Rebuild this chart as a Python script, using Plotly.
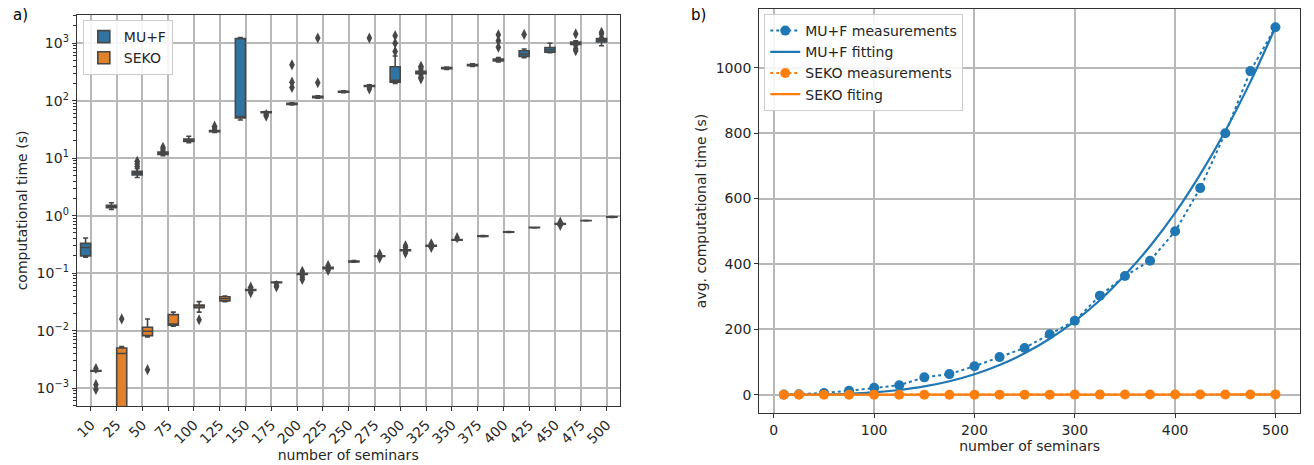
import plotly.graph_objects as go

# ---------------- data ----------------
categories = [10, 25, 50, 75, 100, 125, 150, 175, 200, 225, 250,
              275, 300, 325, 350, 375, 400, 425, 450, 475, 500]
cat_labels = [str(c) for c in categories]

# MU+F box statistics (s)
muf_lower = [0.19, 1.28, 4.6, 11.0, 18.5, 28.0, 46, 60, 84, 110, 137,
             172, 200, 280, 350, 395, 470, 560, 680, 900, 900]
muf_q1 = [0.20, 1.38, 5.1, 11.6, 19.5, 28.8, 50, 61.5, 86, 113, 140,
          176, 210, 295, 360, 405, 490, 590, 700, 950, 1050]
muf_median = [0.28, 1.45, 5.5, 12.2, 20.5, 29.5, 53, 63, 88, 116, 143,
              180, 225, 310, 368, 415, 510, 650, 770, 1000, 1130]
muf_q3 = [0.33, 1.52, 5.9, 12.8, 21.5, 30.3, 1200, 64, 90, 119, 146,
          184, 390, 325, 375, 425, 530, 740, 840, 1050, 1200]
muf_upper = [0.41, 1.68, 6.6, 13.6, 24.0, 31.5, 1250, 65, 92, 122, 149,
             188, 600, 340, 385, 440, 560, 790, 1000, 1100, 1260]
muf_outlier_cat = [50, 50, 50, 75, 75, 125, 125, 175, 175, 200, 200, 200,
                   225, 225, 275, 275, 300, 300, 300, 325, 325, 325, 325,
                   400, 400, 400, 425, 475, 475, 475, 500, 500]
muf_outlier_val = [7.2, 8.0, 8.8, 14.5, 15.5, 33.5, 36.0, 57, 54, 170, 210, 420,
                   205, 1230, 1230, 160, 720, 1000, 1350, 370, 395, 255, 240,
                   850, 1100, 1400, 1420, 1450, 800, 740, 1450, 1550]

# SEKO box statistics (s)
seko_lower = [0.00195, 0.0001, 0.0078, 0.012, 0.021, 0.032, 0.049, 0.066, 0.092,
              0.118, 0.155, 0.19, 0.24, 0.29, 0.37, 0.43, 0.51, 0.61, 0.70, 0.81, 0.93]
seko_q1 = [0.00198, 0.0001, 0.0082, 0.0125, 0.025, 0.033, 0.050, 0.068, 0.095,
           0.120, 0.157, 0.195, 0.245, 0.295, 0.375, 0.435, 0.515, 0.615, 0.71, 0.815, 0.94]
seko_median = [0.0020, 0.004, 0.0098, 0.013, 0.027, 0.036, 0.051, 0.069, 0.097,
               0.123, 0.160, 0.198, 0.250, 0.300, 0.380, 0.440, 0.520, 0.620, 0.72, 0.820, 0.95]
seko_q3 = [0.00202, 0.005, 0.0115, 0.019, 0.028, 0.039, 0.052, 0.070, 0.099,
           0.126, 0.163, 0.200, 0.255, 0.305, 0.385, 0.445, 0.525, 0.625, 0.73, 0.825, 0.96]
seko_upper = [0.00205, 0.0053, 0.016, 0.021, 0.032, 0.040, 0.053, 0.071, 0.101,
              0.128, 0.165, 0.205, 0.260, 0.310, 0.390, 0.450, 0.530, 0.630, 0.74, 0.830, 0.97]
seko_outlier_cat = [10, 10, 10, 25, 50, 100, 150, 150, 175, 175, 200, 200, 200,
                    225, 225, 275, 275, 300, 300, 300, 325, 325, 350, 450, 450]
seko_outlier_val = [0.0022, 0.00115, 0.00095, 0.016, 0.0021, 0.0155, 0.057, 0.046,
                    0.061, 0.058, 0.108, 0.085, 0.078, 0.136, 0.112, 0.215, 0.185,
                    0.30, 0.28, 0.225, 0.325, 0.28, 0.415, 0.77, 0.68]

# right panel: averages and fitted curves (s)
muf_avg = [0.3, 1.5, 5, 12, 21, 29, 53, 63, 87, 115, 143,
           185, 226, 303, 363, 410, 500, 632, 800, 990, 1124]
seko_avg = seko_median
muf_fit = [0.005, 0.09, 0.8, 2.9, 7.0, 14.3, 25.3, 41.2, 62.6, 90.9, 126.6,
           171, 225, 289, 366, 454, 556, 674, 807, 957, 1124]
seko_fit = [0.002, 0.005, 0.012, 0.02, 0.03, 0.04, 0.05, 0.07, 0.09, 0.12, 0.15,
            0.19, 0.24, 0.29, 0.35, 0.42, 0.5, 0.6, 0.7, 0.82, 0.95]

log_tick_vals = [1e-3, 1e-2, 1e-1, 1e0, 1e1, 1e2, 1e3]
log_tick_text = ["10<sup>\u22123</sup>", "10<sup>\u22122</sup>", "10<sup>\u22121</sup>",
                 "10<sup>0</sup>", "10<sup>1</sup>", "10<sup>2</sup>", "10<sup>3</sup>"]

# ---------------- style ----------------
BLUE_BOX = "#3274a1"
ORANGE_BOX = "#e1812c"
GRAY = "#474747"
BLUE = "#1f77b4"
ORANGE = "#ff7f0e"
TXT = "#262626"
GRID = "#b8b8b8"
FONT = "DejaVu Sans"
FS = 14

pos = {c: i for i, c in enumerate(categories)}
idx = list(range(len(categories)))
dodge = 0.2

fig = go.Figure()

def add_box(name, color, shift, lo, q1, med, q3, hi, out_cat, out_val):
    fig.add_trace(go.Box(
        name=name, x=[i + shift for i in idx],
        lowerfence=lo, q1=q1, median=med, q3=q3, upperfence=hi,
        width=0.39, whiskerwidth=0.5,
        fillcolor=color, line=dict(color=GRAY, width=1.6),
        boxpoints=False, xaxis="x", yaxis="y", legend="legend",
        hoverinfo="skip"))
    fig.add_trace(go.Scatter(
        x=[pos[c] + shift for c in out_cat], y=out_val, mode="markers",
        marker=dict(symbol="diamond-tall", size=8, color=GRAY,
                    line=dict(width=0)),
        showlegend=False, xaxis="x", yaxis="y", hoverinfo="skip"))

add_box("MU+F", BLUE_BOX, -dodge, muf_lower, muf_q1, muf_median, muf_q3, muf_upper,
        muf_outlier_cat, muf_outlier_val)
add_box("SEKO", ORANGE_BOX, dodge, seko_lower, seko_q1, seko_median, seko_q3, seko_upper,
        seko_outlier_cat, seko_outlier_val)

# right panel
fig.add_trace(go.Scatter(x=categories, y=muf_avg, mode="lines+markers", name="MU+F measurements",
                         line=dict(color=BLUE, width=2, dash="dot"),
                         marker=dict(size=10, color=BLUE),
                         xaxis="x2", yaxis="y2", legend="legend2"))
fig.add_trace(go.Scatter(x=categories, y=muf_fit, mode="lines", name="MU+F fitting",
                         line=dict(color=BLUE, width=2.2, shape="spline"),
                         xaxis="x2", yaxis="y2", legend="legend2"))
fig.add_trace(go.Scatter(x=categories, y=seko_avg, mode="lines+markers", name="SEKO measurements",
                         line=dict(color=ORANGE, width=2, dash="dot"),
                         marker=dict(size=10, color=ORANGE),
                         xaxis="x2", yaxis="y2", legend="legend2"))
fig.add_trace(go.Scatter(x=categories, y=seko_fit, mode="lines", name="SEKO fiting",
                         line=dict(color=ORANGE, width=2.2, shape="spline"),
                         xaxis="x2", yaxis="y2", legend="legend2"))

axis_common = dict(showline=True, linecolor="#333333", linewidth=1.3, mirror=True,
                   ticks="outside", ticklen=4, tickcolor="#333333", tickwidth=1.2,
                   showgrid=True, gridcolor=GRID, gridwidth=1.6, zeroline=False,
                   tickfont=dict(family=FONT, size=FS, color=TXT))

fig.update_layout(
    width=1314, height=465,
    margin=dict(l=0, r=0, t=0, b=0),
    paper_bgcolor="white", plot_bgcolor="white",
    font=dict(family=FONT, size=FS, color=TXT),
    boxmode="overlay",
    xaxis=dict(domain=[74 / 1314, 618 / 1314], range=[-0.54, 20.5],
               tickmode="array", tickvals=idx, ticktext=cat_labels, tickangle=-45,
               title=dict(text="number of seminars", standoff=3,
                          font=dict(family=FONT, size=FS, color=TXT)),
               anchor="y", **axis_common),
    yaxis=dict(domain=[1 - 406 / 465, 1 - 15 / 465], type="log", range=[-3.31, 3.49],
               tickmode="array", tickvals=log_tick_vals, ticktext=log_tick_text,
               minor=dict(ticks="outside", ticklen=2.5, tickcolor="#333333", dtick="D1",
                          showgrid=False),
               title=dict(text="computational time (s)", standoff=5,
                          font=dict(family=FONT, size=FS, color=TXT)),
               anchor="x", **axis_common),
    xaxis2=dict(domain=[758 / 1314, 1300 / 1314], range=[-14.5, 524.5],
                tickmode="array", tickvals=[0, 100, 200, 300, 400, 500],
                title=dict(text="number of seminars", standoff=3,
                           font=dict(family=FONT, size=FS, color=TXT)),
                anchor="y2", **axis_common),
    yaxis2=dict(domain=[1 - 413 / 465, 1 - 9 / 465], range=[-56, 1180],
                tickmode="array", tickvals=[0, 200, 400, 600, 800, 1000],
                title=dict(text="avg. computational time (s)", standoff=5,
                           font=dict(family=FONT, size=FS, color=TXT)),
                anchor="x2", **axis_common),
    legend=dict(x=(80) / 1314, y=1 - 20 / 465, xanchor="left", yanchor="top",
                bgcolor="rgba(255,255,255,0.85)", bordercolor="#cccccc", borderwidth=1,
                font=dict(family=FONT, size=FS, color=TXT), tracegroupgap=0),
    legend2=dict(x=763 / 1314, y=1 - 14 / 465, xanchor="left", yanchor="top",
                 bgcolor="rgba(255,255,255,0.85)", bordercolor="#cccccc", borderwidth=1,
                 font=dict(family=FONT, size=FS, color=TXT), tracegroupgap=0),
    annotations=[
        dict(text="a)", x=8 / 1314, y=1 - 4 / 465, xref="paper", yref="paper",
             xanchor="left", yanchor="top", showarrow=False,
             font=dict(family=FONT, size=15, color="black")),
        dict(text="b)", x=688 / 1314, y=1 - 4 / 465, xref="paper", yref="paper",
             xanchor="left", yanchor="top", showarrow=False,
             font=dict(family=FONT, size=15, color="black")),
    ],
)

fig.write_html("out.html")
